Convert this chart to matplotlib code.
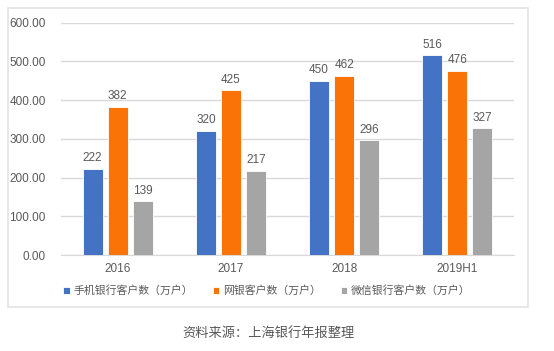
import matplotlib.pyplot as plt
import numpy as np
from matplotlib.patches import Rectangle

plt.rcParams['font.family'] = ['Liberation Sans', 'Noto Sans CJK SC', 'DejaVu Sans']

# 数据
categories = ["2016", "2017", "2018", "2019H1"]
mobile = [222, 320, 450, 516]
online = [382, 425, 462, 476]
wechat = [139, 217, 296, 327]
series_names = ["手机银行客户数（万户）", "网银客户数（万户）", "微信银行客户数（万户）"]
colors = ["#4472C4", "#FA7306", "#A5A5A5"]

fig = plt.figure(figsize=(5.54, 3.51), dpi=100)
W, H = 554, 351

# 外框
fig.patches.append(Rectangle((8 / W, 1 - 306.5 / H), (528 - 8) / W, (306.5 - 8) / H,
                             transform=fig.transFigure, fill=False,
                             edgecolor="#E3E3E3", linewidth=1.2))

ax = fig.add_axes([61 / W, 1 - 255 / H, (514 - 61) / W, (255 - 22.7) / H])
x = np.arange(len(categories))
width = 0.177
step = 0.221
for i, (vals, name) in enumerate(zip([mobile, online, wechat], series_names)):
    bars = ax.bar(x + (i - 1) * step, vals, width, color=colors[i], label=name,
                  edgecolor="white", linewidth=0.6, zorder=3)
    for b, v in zip(bars, vals):
        ax.text(b.get_x() + b.get_width() / 2, v + 12, str(v), ha="center",
                va="bottom", fontsize=8.5, color="#595959")

ax.set_xlim(-0.5, len(categories) - 0.5)
ax.set_ylim(0, 600)
ax.set_yticks(range(0, 601, 100))
ax.set_yticklabels([f"{v:.2f}" for v in range(0, 601, 100)])
ax.set_xticks(x)
ax.set_xticklabels(categories)
ax.tick_params(axis="both", length=0, labelsize=8.5, labelcolor="#595959")
ax.tick_params(axis="y", pad=11)
ax.tick_params(axis="x", pad=6)
ax.grid(axis="y", color="#D9D9D9", linewidth=1, zorder=0)
for s in ["top", "right", "left"]:
    ax.spines[s].set_visible(False)
ax.spines["bottom"].set_color("#D9D9D9")

handles, labels = ax.get_legend_handles_labels()
fig.legend(handles, labels, loc="center", bbox_to_anchor=(267 / W, 1 - 291 / H),
           ncol=3, frameon=False, fontsize=7.8, handlelength=0.6, handleheight=0.6,
           handletextpad=0.35, columnspacing=1.8, labelcolor="#595959")

fig.text(268 / W, 1 - 333 / H, "资料来源：上海银行年报整理", ha="center", va="center",
         fontsize=9.5, color="#595959")

fig.savefig("out.png", dpi=100)
